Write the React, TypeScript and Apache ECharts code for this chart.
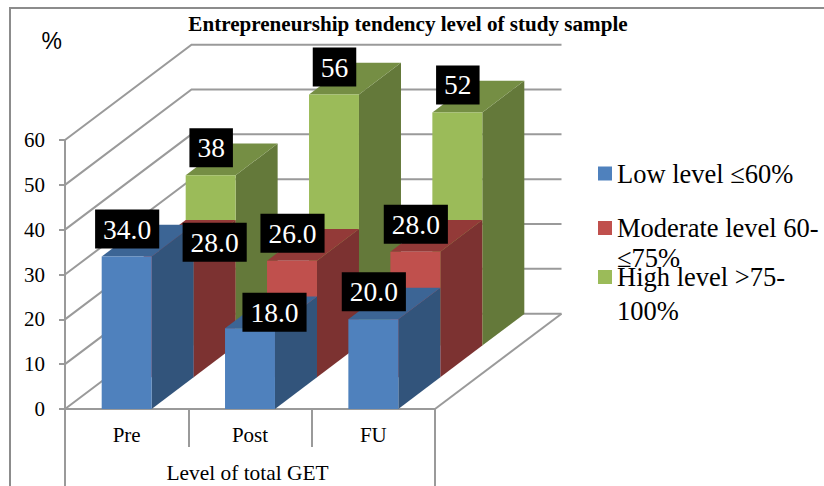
import React, { useEffect, useRef } from "react";
import * as echarts from "echarts";

const categories = ["Pre", "Post", "FU"];
const groupLabel = ["Level of total GET"];
const lowValues = [34, 18, 20];
const moderateValues = [28, 26, 28];
const highValues = [38, 56, 52];
const lowLabels = ["34.0", "18.0", "20.0"];
const moderateLabels = ["28.0", "26.0", "28.0"];
const highLabels = ["38", "56", "52"];
const yTicks = [0, 10, 20, 30, 40, 50, 60];
const seriesNames = ["Low level ≤60%", "Moderate level 60-\n≤75%", "High level >75-\n100%"];

const SERIF = "Liberation Serif";
const GREY = "#9a9a9a";
const ROW_DX = 42;
const ROW_DY = -31.7;
const WALL_DX = 126.5;
const WALL_DY = -95.3;
const BAR_RATIO = 0.405;

const palette = [
  { face: "#4f81bd", top: "#3c6595", side: "#32547b" },
  { face: "#c0504d", top: "#933a38", side: "#7c3231" },
  { face: "#9bbb59", top: "#758e44", side: "#64793a" },
];

function barRenderer(row: number) {
  return (_p: any, api: any) => {
    const cat = api.value(0);
    const val = api.value(1);
    const band = api.size([1, 0])[0];
    const w = band * BAR_RATIO;
    const base = api.coord([cat, 0]);
    const topPt = api.coord([cat, val]);
    const x0 = base[0] - w / 2 + row * ROW_DX;
    const x1 = x0 + w;
    const yb = base[1] + row * ROW_DY;
    const yt = topPt[1] + row * ROW_DY;
    const c = palette[row];
    return {
      type: "group",
      children: [
        { type: "polygon", shape: { points: [[x1, yb], [x1 + ROW_DX, yb + ROW_DY], [x1 + ROW_DX, yt + ROW_DY], [x1, yt]] }, style: { fill: c.side } },
        { type: "polygon", shape: { points: [[x0, yt], [x1, yt], [x1 + ROW_DX, yt + ROW_DY], [x0 + ROW_DX, yt + ROW_DY]] }, style: { fill: c.top } },
        { type: "rect", shape: { x: x0, y: yt, width: w, height: yb - yt }, style: { fill: c.face } },
      ],
    };
  };
}

const manualLabelShift: Record<string, number[]> = {
  "1-0": [45.5, 18],
  "0-1": [24, 11.5],
};

function wallRenderer(p: any, api: any) {
  const val = api.value(0);
  const cs = p.coordSys;
  const y = api.coord([0, val])[1];
  const right = cs.x + cs.width;
  const lineStyle = { stroke: GREY, lineWidth: 2, fill: "none" };
  const children: any[] = [
    {
      type: "polyline",
      shape: { points: [[cs.x, y], [cs.x + WALL_DX, y + WALL_DY], [right + WALL_DX, y + WALL_DY]] },
      style: lineStyle,
    },
  ];
  if (val === 0) {
    children.push({
      type: "line",
      shape: { x1: right, y1: y, x2: right + WALL_DX, y2: y + WALL_DY },
      style: lineStyle,
    });
  }
  return { type: "group", children };
}

function legendFor(index: number, top: number, lineHeight: number) {
  return {
    show: true,
    data: [seriesNames[index]],
    left: 598,
    top,
    padding: 0,
    itemWidth: 14,
    itemHeight: 14,
    itemGap: 0,
    selectedMode: false,
    icon: "rect",
    orient: "vertical",
    formatter: (name: string) => (name.includes("\n") ? "\n" + name : name),
    textStyle: { fontFamily: SERIF, fontSize: 26.5, color: "#000000", lineHeight },
  };
}

export default function App() {
  const ref = useRef<HTMLDivElement | null>(null);
  useEffect(() => {
    if (!ref.current) return;
    const chart = echarts.init(ref.current, undefined, { renderer: "svg" });
    const rows = [lowValues, moderateValues, highValues];
    const labelSets = [lowLabels, moderateLabels, highLabels];
    const labelData: any[] = [];
    const labelTexts: string[] = [];
    rows.forEach((vals, r) =>
      vals.forEach((v, c) => {
        labelData.push([c, v, r]);
        labelTexts.push(labelSets[r][c]);
      })
    );
    const labelRenderer = (p: any, api: any) => {
      const cat = api.value(0);
      const val = api.value(1);
      const row = api.value(2);
      const top = api.coord([cat, val]);
      const shift = manualLabelShift[`${row}-${cat}`] || [0, 0];
      return {
        type: "text",
        x: top[0] + row * ROW_DX + 0.5 + shift[0],
        y: top[1] + row * ROW_DY - 27.5 + shift[1],
        style: {
          text: labelTexts[p.dataIndex],
          align: "center",
          verticalAlign: "middle",
          fill: "#ffffff",
          font: `27.5px "${SERIF}"`,
          backgroundColor: "#000000",
          lineHeight: 39,
          padding: [0, 8, 0, 8],
        },
      };
    };
    const barSeries = [2, 1, 0].map((r) => ({
      type: "custom",
      name: seriesNames[r],
      renderItem: barRenderer(r),
      data: rows[r].map((v, c) => [c, v]),
      encode: { x: 0, y: 1 },
      itemStyle: { color: palette[r].face },
      z: 5 - r + 1,
    }));
    chart.setOption({
      animation: false,
      backgroundColor: "#ffffff",
      title: {
        text: "Entrepreneurship tendency level of study sample",
        left: 408,
        top: 8,
        textAlign: "center",
        textStyle: { fontFamily: SERIF, fontSize: 21.1, fontWeight: "bold", color: "#000000" },
        padding: [5, 10, 5, 0],
      },
      legend: [legendFor(0, 159, 29), legendFor(1, 183, 30), legendFor(2, 226, 34)],
      grid: { left: 65, right: 389, top: 140, bottom: 77 },
      xAxis: [
        {
          type: "category",
          data: categories,
          position: "bottom",
          axisLine: { show: true, lineStyle: { color: GREY, width: 2 } },
          axisTick: { show: true, length: 38, lineStyle: { color: GREY, width: 2 } },
          axisLabel: { fontFamily: SERIF, fontSize: 21, color: "#000000", margin: 15 },
        },
        {
          type: "category",
          data: groupLabel,
          position: "bottom",
          axisLine: { show: false },
          axisTick: { show: true, length: 77, lineStyle: { color: GREY, width: 2 } },
          axisLabel: { fontFamily: SERIF, fontSize: 21.4, color: "#000000", margin: 53, padding: [0, 5, 0, 0] },
        },
      ],
      yAxis: {
        type: "value",
        min: 0,
        max: 60,
        interval: 10,
        name: "%",
        nameLocation: "end",
        nameGap: 88,
        nameTextStyle: { fontFamily: "Liberation Sans", fontSize: 23, color: "#000000", align: "right", padding: [0, 3, 0, 0] },
        axisLine: { show: true, lineStyle: { color: GREY, width: 2 } },
        axisTick: { show: true, length: 6, lineStyle: { color: GREY, width: 2 } },
        axisLabel: { fontFamily: SERIF, fontSize: 21, color: "#000000", margin: 20 },
        splitLine: { show: false },
      },
      graphic: [
        {
          type: "polyline",
          shape: { points: [[10, 486], [10, 8], [824, 8]] },
          style: { stroke: "#8c8c8c", lineWidth: 2, fill: "none" },
          silent: true,
        },
      ],
      series: [
        {
          type: "custom",
          name: "walls",
          renderItem: wallRenderer,
          data: yTicks.map((v) => [v]),
          encode: { y: 0 },
          silent: true,
          z: 1,
        },
        ...barSeries,
        {
          type: "custom",
          name: "labels",
          renderItem: labelRenderer,
          data: labelData,
          encode: { x: 0, y: 1 },
          silent: true,
          z: 20,
        },
      ],
    });
    return () => chart.dispose();
  }, []);
  return <div ref={ref} style={{ width: 824, height: 486, position: "absolute", left: 0, top: 0 }} />;
}
